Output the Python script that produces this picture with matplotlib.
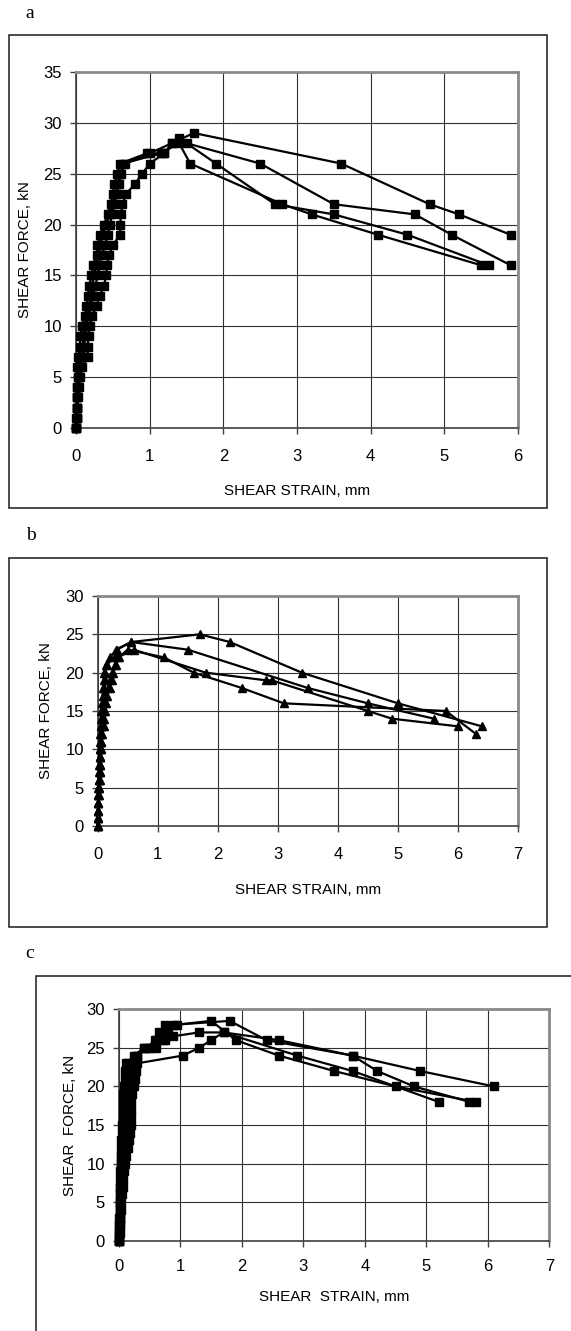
import matplotlib
matplotlib.use('Agg')
import matplotlib.pyplot as plt
from matplotlib.patches import Rectangle

plt.rcParams['font.family'] = ['Liberation Sans', 'DejaVu Sans']

W, H = 571, 1331

# ---- panel a: four specimens (square markers) ----
a1_x = [0, 0.01, 0.02, 0.02, 0.02, 0.04, 0.02, 0.03, 0.05, 0.06, 0.08, 0.12, 0.14, 0.16,
        0.18, 0.21, 0.23, 0.28, 0.29, 0.33, 0.38, 0.43, 0.47, 0.50, 0.52, 0.56, 0.60,
        0.96, 1.2, 1.3, 1.6, 3.6, 4.8, 5.2, 5.9]
a1_y = [0, 1, 2, 3, 4, 5, 6, 7, 8, 9, 10, 11, 12, 13, 14, 15, 16, 17, 18, 19, 20, 21, 22,
        23, 24, 25, 26, 27, 27, 28, 29, 26, 22, 21, 19]
a2_x = [0, 0.01, 0.01, 0.02, 0.03, 0.03, 0.05, 0.06, 0.09, 0.10, 0.12, 0.15, 0.18, 0.20,
        0.22, 0.24, 0.27, 0.31, 0.33, 0.36, 0.41, 0.46, 0.50, 0.54, 0.57, 0.60, 0.67,
        1.0, 1.3, 1.5, 2.5, 3.5, 4.6, 5.1, 5.9]
a2_y = [0, 1, 2, 3, 4, 5, 6, 7, 8, 9, 10, 11, 12, 13, 14, 15, 16, 17, 18, 19, 20, 21, 22,
        23, 24, 25, 26, 27, 28, 28, 26, 22, 21, 19, 16]
a3_x = [0, 0.01, 0.02, 0.03, 0.04, 0.05, 0.08, 0.16, 0.16, 0.17, 0.19, 0.22, 0.28, 0.32,
        0.38, 0.41, 0.42, 0.45, 0.50, 0.60, 0.60, 0.61, 0.63, 0.68, 0.80, 0.90, 1.0,
        1.2, 1.4, 1.9, 2.7, 3.5, 4.5, 5.6]
a3_y = [0, 1, 2, 3, 4, 5, 6, 7, 8, 9, 10, 11, 12, 13, 14, 15, 16, 17, 18, 19, 20, 21, 22,
        23, 24, 25, 26, 27, 28.5, 26, 22, 21, 19, 16]
a4_x = [0, 0, 0.01, 0.01, 0.02, 0.03, 0.04, 0.10, 0.11, 0.12, 0.13, 0.17, 0.20, 0.23,
        0.26, 0.30, 0.32, 0.35, 0.40, 0.43, 0.46, 0.49, 0.52, 0.55, 0.58, 0.61, 0.64,
        1.15, 1.4, 1.55, 2.8, 3.2, 4.1, 5.5]
a4_y = [0, 1, 2, 3, 4, 5, 6, 7, 8, 9, 10, 11, 12, 13, 14, 15, 16, 17, 18, 19, 20, 21, 22,
        23, 24, 25, 26, 27, 28, 26, 22, 21, 19, 16]

# ---- panel b: four specimens (triangle markers) ----
b1_x = [0, 0, 0, 0.01, 0.01, 0.01, 0.02, 0.02, 0.02, 0.03, 0.03, 0.04, 0.04, 0.05, 0.05,
        0.06, 0.07, 0.08, 0.09, 0.10, 0.10, 0.13, 0.20, 0.32, 0.56, 1.7, 2.2, 3.4, 5.0, 6.4]
b1_y = [0, 1, 2, 3, 4, 5, 6, 7, 8, 9, 10, 11, 12, 13, 14, 15, 16, 17, 18, 19, 20, 21,
        22, 23, 24, 25, 24, 20, 16, 13]
b2_x = [0, 0, 0.01, 0.01, 0.01, 0.02, 0.02, 0.03, 0.03, 0.04, 0.04, 0.05, 0.05, 0.06, 0.07,
        0.08, 0.09, 0.10, 0.11, 0.12, 0.12, 0.15, 0.28, 0.30, 0.56, 1.5, 3.5, 4.5, 5.6]
b2_y = [0, 1, 2, 3, 4, 5, 6, 7, 8, 9, 10, 11, 12, 13, 14, 15, 16, 17, 18, 19, 20, 21,
        22, 23, 24, 23, 18, 16, 14]
b3_x = [0, 0, 0.01, 0.01, 0.02, 0.02, 0.03, 0.03, 0.04, 0.04, 0.05, 0.06, 0.07, 0.10, 0.11,
        0.12, 0.14, 0.16, 0.20, 0.23, 0.26, 0.30, 0.35, 0.50, 1.1, 1.6, 2.4, 3.1, 5.8, 6.3]
b3_y = [0, 1, 2, 3, 4, 5, 6, 7, 8, 9, 10, 11, 12, 13, 14, 15, 16, 17, 18, 19, 20, 21,
        22, 23, 22, 20, 18, 16, 15, 12]
b4_x = [0, 0, 0, 0.01, 0.01, 0.02, 0.02, 0.03, 0.03, 0.04, 0.05, 0.05, 0.06, 0.08, 0.09,
        0.10, 0.12, 0.14, 0.17, 0.20, 0.24, 0.28, 0.33, 0.60, 1.8, 2.8, 2.9, 4.5, 4.9, 6.0]
b4_y = [0, 1, 2, 3, 4, 5, 6, 7, 8, 9, 10, 11, 12, 13, 14, 15, 16, 17, 18, 19, 20, 21,
        22, 23, 20, 19, 19, 15, 14, 13]

# ---- panel c: four specimens (square markers) ----
c1_x = [0, 0, 0, 0, 0.01, 0.01, 0.01, 0.02, 0.02, 0.02, 0.03, 0.03, 0.04, 0.04, 0.05,
        0.05, 0.06, 0.06, 0.07, 0.07, 0.08, 0.09, 0.10, 0.12, 0.25, 0.40, 0.50, 0.60,
        0.65, 0.75, 0.94, 1.5, 1.9, 2.6, 3.5, 4.5, 5.8]
c1_y = [0, 1, 2, 3, 4, 5, 6, 7, 8, 9, 10, 11, 12, 13, 14, 15, 16, 17, 18, 19, 20, 21,
        22, 23, 24, 25, 25, 26, 27, 28, 28, 28.5, 26, 24, 22, 20, 18]
c2_x = [0, 0, 0, 0.01, 0.01, 0.01, 0.02, 0.02, 0.03, 0.03, 0.04, 0.04, 0.05, 0.06, 0.06,
        0.07, 0.08, 0.09, 0.10, 0.10, 0.11, 0.12, 0.13, 0.14, 0.30, 0.45, 0.58, 0.72,
        0.80, 0.88, 1.3, 1.7, 2.6, 3.8, 4.2, 4.8, 5.7]
c2_y = [0, 1, 2, 3, 4, 5, 6, 7, 8, 9, 10, 11, 12, 13, 14, 15, 16, 17, 18, 19, 20, 21,
        22, 23, 24, 25, 26, 26, 27, 26.5, 27, 27, 26, 24, 22, 20, 18]
c3_x = [0, 0.01, 0.01, 0.02, 0.03, 0.04, 0.05, 0.06, 0.07, 0.08, 0.10, 0.12, 0.14, 0.16,
        0.18, 0.19, 0.19, 0.20, 0.20, 0.21, 0.22, 0.25, 0.25, 0.26, 0.29, 0.40, 0.60,
        0.75, 0.90, 1.8, 2.4, 3.8, 4.9, 6.1]
c3_y = [0, 1, 2, 3, 4, 5, 6, 7, 8, 9, 10, 11, 12, 13, 14, 15, 16, 17, 18, 19, 20, 21,
        22, 23, 24, 25, 25, 26, 28, 28.5, 26, 24, 22, 20]
c4_x = [0, 0, 0.01, 0.01, 0.02, 0.02, 0.03, 0.04, 0.05, 0.06, 0.07, 0.08, 0.10, 0.12,
        0.14, 0.15, 0.16, 0.17, 0.18, 0.20, 0.24, 0.26, 0.27, 0.30, 1.04, 1.3, 1.5, 1.7,
        2.9, 3.8, 5.2]
c4_y = [0, 1, 2, 3, 4, 5, 6, 7, 8, 9, 10, 11, 12, 13, 14, 15, 16, 17, 18, 19, 20, 21,
        22, 23, 24, 25, 26, 27, 24, 22, 18]

a_xticks = [0, 1, 2, 3, 4, 5, 6]
a_yticks = [0, 5, 10, 15, 20, 25, 30, 35]
bc_xticks = [0, 1, 2, 3, 4, 5, 6, 7]
bc_yticks = [0, 5, 10, 15, 20, 25, 30]


def frac_rect(x0, y0, x1, y1):
    # pixel box, origin top-left -> figure fraction [left, bottom, w, h]
    return [x0 / W, 1 - y1 / H, (x1 - x0) / W, (y1 - y0) / H]


panels = [
    dict(tag='a', series=[(a1_x, a1_y), (a2_x, a2_y), (a3_x, a3_y), (a4_x, a4_y)],
         marker='s', ms=5.2, plot=(76, 72, 518, 428), frame=(9, 35, 547, 508),
         tag_xy=(30, 14), xticks=a_xticks, yticks=a_yticks,
         xlabel='SHEAR STRAIN, mm', ylabel='SHEAR FORCE, kN',
         xlab_y=491, ylab_x=25, xpad=11),
    dict(tag='b', series=[(b1_x, b1_y), (b2_x, b2_y), (b3_x, b3_y), (b4_x, b4_y)],
         marker='^', ms=5.5, plot=(97.7, 596, 518, 826), frame=(9, 558, 547, 927),
         tag_xy=(31, 535), xticks=bc_xticks, yticks=bc_yticks,
         xlabel='SHEAR STRAIN, mm', ylabel='SHEAR FORCE, kN',
         xlab_y=890, ylab_x=46, xpad=11),
    dict(tag='c', series=[(c1_x, c1_y), (c2_x, c2_y), (c3_x, c3_y), (c4_x, c4_y)],
         marker='s', ms=5.2, plot=(119, 1009.3, 549.3, 1240.7), frame=(35.7, 976, 620, 1400),
         tag_xy=(30, 953), xticks=bc_xticks, yticks=bc_yticks,
         xlabel='SHEAR  STRAIN, mm', ylabel='SHEAR  FORCE, kN',
         xlab_y=1297, ylab_x=70, xpad=9),
]

fig = plt.figure(figsize=(W / 100, H / 100), dpi=100)

for p in panels:
    fx0, fy0, fx1, fy1 = p['frame']
    fig.add_artist(Rectangle((fx0 / W, 1 - fy1 / H), (fx1 - fx0) / W, (fy1 - fy0) / H,
                             transform=fig.transFigure, fill=False, ec='#1a1a1a', lw=1.1))
    fig.text(p['tag_xy'][0] / W, 1 - p['tag_xy'][1] / H, p['tag'], family='Liberation Serif',
             fontsize=14, ha='center', va='center')

    ax = fig.add_axes(frac_rect(*p['plot']))
    for xs, ys in p['series']:
        ax.plot(xs, ys, color='black', lw=1.6, marker=p['marker'], ms=p['ms'],
                mfc='black', mec='black', clip_on=False, zorder=3)

    ax.set_xlim(p['xticks'][0], p['xticks'][-1])
    ax.set_ylim(p['yticks'][0], p['yticks'][-1])
    ax.set_xticks(p['xticks'])
    ax.set_yticks(p['yticks'])
    ax.grid(True, color='#303030', lw=0.8)
    ax.set_axisbelow(True)
    for side in ['top', 'right']:
        ax.spines[side].set_color('#8a8a8a')
        ax.spines[side].set_linewidth(2)
    for side in ['left', 'bottom']:
        ax.spines[side].set_color('#404040')
        ax.spines[side].set_linewidth(1.2)
    ax.tick_params(direction='out', length=4, width=1, color='#404040', labelsize=12)
    ax.tick_params(axis='x', pad=p['xpad'])
    ax.tick_params(axis='y', pad=6)

    px0, py0, px1, py1 = p['plot']
    ax.set_xlabel(p['xlabel'], fontsize=11, va='center')
    ax.xaxis.set_label_coords(0.5, (py1 - p['xlab_y']) / (py1 - py0))
    ax.set_ylabel(p['ylabel'], fontsize=11, va='center')
    ax.yaxis.set_label_coords((p['ylab_x'] - px0) / (px1 - px0), 0.5)

fig.savefig('out.png', dpi=100)
